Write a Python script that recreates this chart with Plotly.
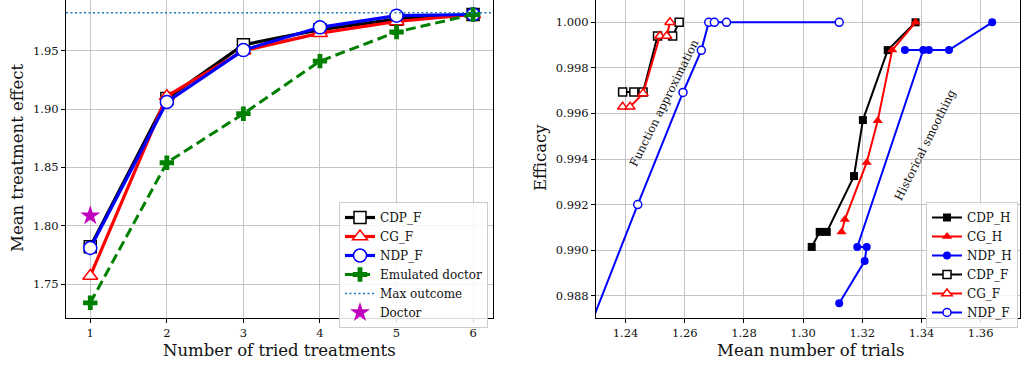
import plotly.graph_objects as go

# ---------------- Left panel data ----------------
n_tried = [1, 2, 3, 4, 5, 6]
cdp_f_left = [1.782, 1.909, 1.955, 1.968, 1.977, 1.981]
cg_f_left = [1.757, 1.911, 1.950, 1.965, 1.975, 1.981]
ndp_f_left = [1.781, 1.906, 1.9505, 1.970, 1.980, 1.981]
emulated_doctor = [1.734, 1.854, 1.896, 1.941, 1.966, 1.981]
doctor_x = [1]
doctor_y = [1.8085]
max_outcome = 1.9825
left_xticks = [1, 2, 3, 4, 5, 6]
left_yticks = [1.75, 1.80, 1.85, 1.90, 1.95]

# ---------------- Right panel data ----------------
cdp_h_x = [1.3029, 1.3056, 1.3080, 1.3172, 1.3202, 1.3286, 1.3380]
cdp_h_y = [0.99014, 0.99080, 0.99080, 0.99325, 0.99571, 0.99878, 1.0]
cg_h_x = [1.3130, 1.3141, 1.3215, 1.3252, 1.3301, 1.3380]
cg_h_y = [0.99080, 0.99134, 0.99385, 0.99568, 0.99878, 1.0]
ndp_h_x = [1.3122, 1.3208, 1.3215, 1.3183, 1.3406, 1.3344, 1.3425, 1.3493, 1.3639]
ndp_h_y = [0.98767, 0.98952, 0.99014, 0.99014, 0.99878, 0.99878, 0.99878, 0.99878, 1.0]
cdp_f_x = [1.2390, 1.2428, 1.2459, 1.2508, 1.2559, 1.2581]
cdp_f_y = [0.99694, 0.99694, 0.99694, 0.99940, 0.99940, 1.0]
cg_f_x = [1.2390, 1.2415, 1.2459, 1.2516, 1.2539, 1.2550]
cg_f_y = [0.99629, 0.99629, 0.99688, 0.99940, 0.99940, 1.0]
ndp_f_x = [1.2200, 1.2441, 1.2594, 1.2656, 1.2681, 1.2700, 1.2741, 1.3122]
ndp_f_y = [0.98400, 0.99200, 0.99692, 0.99877, 1.0, 1.0, 1.0, 1.0]
right_xticks = [1.24, 1.26, 1.28, 1.30, 1.32, 1.34, 1.36]
right_yticks = [0.988, 0.990, 0.992, 0.994, 0.996, 0.998, 1.000]

X1_RANGE = [0.683, 6.26]
Y1_RANGE = [1.721, 1.9934]
X2_RANGE = [1.23, 1.3733]
Y2_RANGE = [0.98702, 1.00098]

FONT = "DejaVu Serif"
TXT = "#111111"
GRID = "#c4c4c4"

fig = go.Figure()


def open_marker(symbol, color, size):
    return dict(symbol=symbol, size=size, color="white", line=dict(color=color, width=1.5))


def filled_marker(symbol, color, size):
    return dict(symbol=symbol, size=size, color=color, line=dict(color=color, width=0))


# Left traces
fig.add_trace(go.Scatter(x=n_tried, y=cdp_f_left, name="CDP_F", mode="lines+markers",
                         line=dict(color="black", width=3.2), marker=open_marker("square", "black", 12),
                         xaxis="x", yaxis="y", legend="legend"))
fig.add_trace(go.Scatter(x=n_tried, y=cg_f_left, name="CG_F", mode="lines+markers",
                         line=dict(color="red", width=3.2), marker=open_marker("triangle-up", "red", 13),
                         xaxis="x", yaxis="y", legend="legend"))
fig.add_trace(go.Scatter(x=n_tried, y=ndp_f_left, name="NDP_F", mode="lines+markers",
                         line=dict(color="blue", width=3.2), marker=open_marker("circle", "blue", 13),
                         xaxis="x", yaxis="y", legend="legend"))
fig.add_trace(go.Scatter(x=n_tried, y=emulated_doctor, name="Emulated doctor", mode="lines+markers",
                         line=dict(color="green", width=3, dash="10px,5px"),
                         marker=dict(symbol="cross", size=12, color="green"),
                         xaxis="x", yaxis="y", legend="legend"))
fig.add_trace(go.Scatter(x=X1_RANGE, y=[max_outcome, max_outcome], name="Max outcome", mode="lines",
                         line=dict(color="#1f77b4", width=1.5, dash="2px,2.5px"),
                         xaxis="x", yaxis="y", legend="legend"))
fig.add_trace(go.Scatter(x=doctor_x, y=doctor_y, name="Doctor", mode="markers",
                         marker=dict(symbol="star", size=15, color="#bf00bf"),
                         xaxis="x", yaxis="y", legend="legend"))

# Right traces
fig.add_trace(go.Scatter(x=cdp_h_x, y=cdp_h_y, name="CDP_H", mode="lines+markers",
                         line=dict(color="black", width=2), marker=filled_marker("square", "black", 8),
                         xaxis="x2", yaxis="y2", legend="legend2"))
fig.add_trace(go.Scatter(x=cg_h_x, y=cg_h_y, name="CG_H", mode="lines+markers",
                         line=dict(color="red", width=2), marker=filled_marker("triangle-up", "red", 9),
                         xaxis="x2", yaxis="y2", legend="legend2"))
fig.add_trace(go.Scatter(x=ndp_h_x, y=ndp_h_y, name="NDP_H", mode="lines+markers",
                         line=dict(color="blue", width=2), marker=filled_marker("circle", "blue", 8),
                         xaxis="x2", yaxis="y2", legend="legend2"))
fig.add_trace(go.Scatter(x=cdp_f_x, y=cdp_f_y, name="CDP_F", mode="lines+markers",
                         line=dict(color="black", width=2), marker=open_marker("square", "black", 8),
                         xaxis="x2", yaxis="y2", legend="legend2"))
fig.add_trace(go.Scatter(x=cg_f_x, y=cg_f_y, name="CG_F", mode="lines+markers",
                         line=dict(color="red", width=2), marker=open_marker("triangle-up", "red", 9),
                         xaxis="x2", yaxis="y2", legend="legend2"))
fig.add_trace(go.Scatter(x=ndp_f_x, y=ndp_f_y, name="NDP_F", mode="lines+markers",
                         line=dict(color="blue", width=2), marker=open_marker("circle", "blue", 8),
                         xaxis="x2", yaxis="y2", legend="legend2"))

W, H = 1021, 366
tickfont = dict(family=FONT, size=11.5, color=TXT)
axis_common = dict(showgrid=True, gridcolor=GRID, gridwidth=1, zeroline=False,
                   showline=True, linecolor="black", linewidth=1.2,
                   ticks="outside", ticklen=4, tickcolor="black", tickfont=tickfont,
                   automargin=False)

legend_common = dict(font=dict(family=FONT, size=12, color=TXT), bgcolor="rgba(255,255,255,0.85)",
                     bordercolor="#cccccc", borderwidth=1, yanchor="top",
                     tracegroupgap=0, itemwidth=30)

fig.update_layout(
    width=W, height=H, margin=dict(l=0, r=0, t=0, b=0, autoexpand=False),
    paper_bgcolor="white", plot_bgcolor="white",
    font=dict(family=FONT, color=TXT),
    xaxis=dict(domain=[66 / W, 493 / W], range=X1_RANGE, tickvals=left_xticks,
               anchor="y", mirror=False, **axis_common),
    yaxis=dict(domain=[48 / H, 1.0], range=Y1_RANGE, tickvals=left_yticks, tickformat=".2f",
               anchor="x", mirror=True, **axis_common),
    xaxis2=dict(domain=[596 / W, 1020 / W], range=X2_RANGE, tickvals=right_xticks, tickformat=".2f",
                anchor="y2", mirror=False, **axis_common),
    yaxis2=dict(domain=[48 / H, 1.0], range=Y2_RANGE, tickvals=right_yticks, tickformat=".3f",
                anchor="x2", mirror=True, **axis_common),
    legend=dict(x=488 / W, y=1 - 202 / H, xanchor="right", **legend_common),
    legend2=dict(x=1018 / W, y=1 - 202 / H, xanchor="right", **legend_common),
    showlegend=True,
)

title_font = dict(family=FONT, size=16.5, color=TXT)
ann_font = dict(family=FONT, size=11.5, color=TXT)
fig.add_annotation(text="Number of tried treatments", x=279 / W, y=1 - 350 / H, xref="paper", yref="paper",
                   showarrow=False, font=title_font, xanchor="center", yanchor="middle")
fig.add_annotation(text="Mean treatment effect", x=17 / W, y=1 - 158 / H, xref="paper", yref="paper",
                   showarrow=False, font=title_font, textangle=-90, xanchor="center", yanchor="middle")
fig.add_annotation(text="Mean number of trials", x=810 / W, y=1 - 350 / H, xref="paper", yref="paper",
                   showarrow=False, font=title_font, xanchor="center", yanchor="middle")
fig.add_annotation(text="Efficacy", x=540 / W, y=1 - 158 / H, xref="paper", yref="paper",
                   showarrow=False, font=title_font, textangle=-90, xanchor="center", yanchor="middle")
fig.add_annotation(text="Function approximation", x=664 / W, y=1 - 103 / H, xref="paper", yref="paper",
                   showarrow=False, font=ann_font, textangle=-63.5, xanchor="center", yanchor="middle")
fig.add_annotation(text="Historical smoothing", x=925 / W, y=1 - 145 / H, xref="paper", yref="paper",
                   showarrow=False, font=ann_font, textangle=-63.5, xanchor="center", yanchor="middle")

# remove the default page margin so the figure sits at the top-left corner of the window
fig.write_html("out.html", config={"displayModeBar": False},
               post_script="document.body.style.margin='0';document.body.style.overflow='hidden';")
